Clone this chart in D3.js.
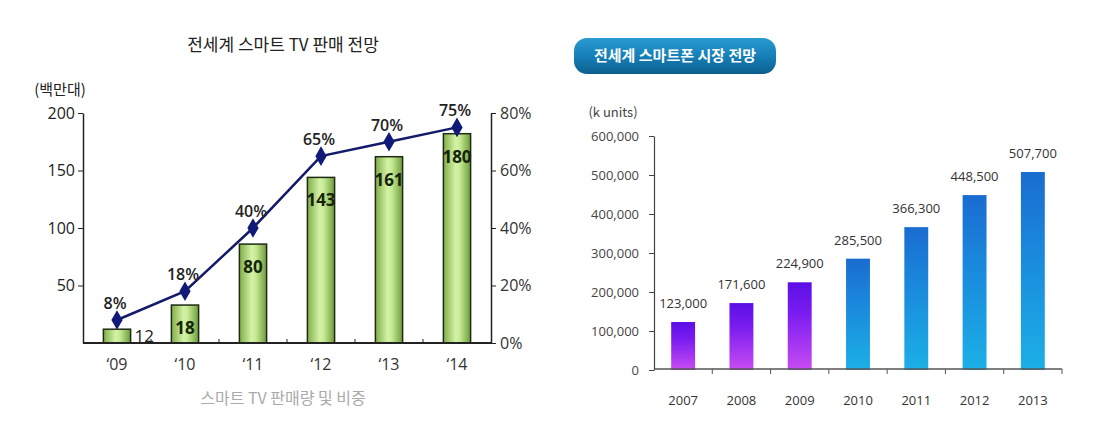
<!DOCTYPE html>
<html>
<head>
<meta charset="utf-8">
<script src="https://cdn.jsdelivr.net/npm/d3@7"></script>
<style>
  html, body { margin: 0; padding: 0; background: #fff; }
  svg { display: block; font-family: "Noto Sans CJK KR", "Noto Sans", sans-serif; }
</style>
</head>
<body>
<svg id="chart" width="1100" height="421"></svg>
<script>
// ---- Left chart: smart TV ----
const tvYears = ["‘09", "‘10", "‘11", "‘12", "‘13", "‘14"];
const tvBarValues = [12, 33, 86, 144, 162, 182];        // drawn bar heights (백만대)
const tvBarLabels = ["12", "18", "80", "143", "161", "180"];
const tvShare = [8, 18, 40, 65, 70, 75];                 // %
const tvLeftTicks = [50, 100, 150, 200];
const tvRightTicks = [0, 20, 40, 60, 80];

// ---- Right chart: smartphone ----
const phYears = ["2007", "2008", "2009", "2010", "2011", "2012", "2013"];
const phValues = [123000, 171600, 224900, 285500, 366300, 448500, 507700];
const phTicks = [0, 100000, 200000, 300000, 400000, 500000, 600000];

const svg = d3.select("#chart");
const defs = svg.append("defs");

// gradients
const gGreen = defs.append("linearGradient").attr("id", "gGreen").attr("x1", 0).attr("x2", 1).attr("y1", 0).attr("y2", 0);
[[0, "#7fae48"], [0.45, "#d4f2a6"], [0.6, "#c6eb93"], [1, "#6f9c3c"]].forEach(s =>
  gGreen.append("stop").attr("offset", s[0]).attr("stop-color", s[1]));
const gPurple = defs.append("linearGradient").attr("id", "gPurple").attr("x1", 0).attr("x2", 0).attr("y1", 0).attr("y2", 1);
[[0, "#5a10e6"], [0.35, "#7a1cf0"], [1, "#c84cf2"]].forEach(s =>
  gPurple.append("stop").attr("offset", s[0]).attr("stop-color", s[1]));
const gBlue = defs.append("linearGradient").attr("id", "gBlue").attr("x1", 0).attr("x2", 0).attr("y1", 0).attr("y2", 1);
[[0, "#1a6cd0"], [0.4, "#1a88dc"], [1, "#1cb0e6"]].forEach(s =>
  gBlue.append("stop").attr("offset", s[0]).attr("stop-color", s[1]));
const gBtn = defs.append("linearGradient").attr("id", "gBtn").attr("x1", 0).attr("x2", 0).attr("y1", 0).attr("y2", 1);
[[0, "#2a9ad0"], [0.5, "#1680b8"], [1, "#0d5f8e"]].forEach(s =>
  gBtn.append("stop").attr("offset", s[0]).attr("stop-color", s[1]));

// ===== Left chart =====
const L = { left: 83, right: 491, top: 113, bottom: 343 };
const xL = d3.scaleBand().domain(tvYears).range([L.left, L.right]).paddingInner(0.6).paddingOuter(0.3);
const yL = d3.scaleLinear().domain([0, 200]).range([L.bottom, L.top]);
const yP = d3.scaleLinear().domain([0, 80]).range([L.bottom, L.top]);

svg.append("text").attr("x", 283).attr("y", 51).attr("text-anchor", "middle")
  .attr("font-size", 17).attr("fill", "#222").text("전세계 스마트 TV 판매 전망");
svg.append("text").attr("x", 60).attr("y", 95).attr("text-anchor", "middle")
  .attr("font-size", 15).attr("fill", "#222").text("(백만대)");

// left axis
const axL = svg.append("g").attr("transform", `translate(${L.left},0)`)
  .call(d3.axisLeft(yL).tickValues(tvLeftTicks).tickSize(5).tickSizeOuter(0));
axL.select(".domain").attr("stroke", "#222").attr("stroke-width", 1.5);
axL.selectAll(".tick line").attr("stroke", "#222");
axL.selectAll(".tick text").attr("font-size", 16).attr("fill", "#222")
  .attr("font-family", "'Open Sans', 'Noto Sans', sans-serif").attr("x", -8);

// right axis
const axR = svg.append("g").attr("transform", `translate(${L.right},0)`)
  .call(d3.axisRight(yP).tickValues(tvRightTicks).tickSize(5).tickSizeOuter(0).tickFormat(d => d + "%"));
axR.select(".domain").attr("stroke", "#222").attr("stroke-width", 1.5);
axR.selectAll(".tick line").attr("stroke", "#222");
axR.selectAll(".tick text").attr("font-size", 16).attr("fill", "#333")
  .attr("font-family", "'Open Sans', 'Noto Sans', sans-serif").attr("x", 9);

// bars
svg.append("g").selectAll("rect").data(tvYears).join("rect")
  .attr("x", d => xL(d)).attr("width", xL.bandwidth())
  .attr("y", (d, i) => yL(tvBarValues[i]))
  .attr("height", (d, i) => yL(0) - yL(tvBarValues[i]))
  .attr("fill", "url(#gGreen)").attr("stroke", "#1e2a14").attr("stroke-width", 1.5);

// bottom axis
svg.append("line").attr("x1", L.left).attr("x2", L.right).attr("y1", L.bottom).attr("y2", L.bottom)
  .attr("stroke", "#222").attr("stroke-width", 1.8);
const stepL = xL.step();
svg.append("g").selectAll("line").data(tvYears.slice(1)).join("line")
  .attr("x1", d => xL(d) - stepL * 0.3).attr("x2", d => xL(d) - stepL * 0.3)
  .attr("y1", L.bottom).attr("y2", L.bottom - 4).attr("stroke", "#222");
svg.append("g").selectAll("text").data(tvYears).join("text")
  .attr("x", d => xL(d) + xL.bandwidth() / 2).attr("y", 370)
  .attr("text-anchor", "middle").attr("font-size", 16).attr("fill", "#333")
  .attr("font-family", "'Open Sans', 'Noto Sans', sans-serif").text(d => d);

// bar labels
svg.append("g").selectAll("text").data(tvYears).join("text")
  .attr("x", (d, i) => i === 0 ? xL(d) + xL.bandwidth() + 4 : xL(d) + xL.bandwidth() / 2)
  .attr("y", (d, i) => i === 0 ? yL(0) - 1 : yL(tvBarValues[i]) + 29)
  .attr("text-anchor", (d, i) => i === 0 ? "start" : "middle")
  .attr("font-size", 17).attr("font-weight", (d, i) => i === 0 ? "normal" : "bold")
  .attr("fill", (d, i) => i === 0 ? "#222" : "#16240c")
  .attr("font-family", "'Open Sans', 'Noto Sans', sans-serif")
  .text((d, i) => tvBarLabels[i]);

// share line
const cx = d => xL(d) + xL.bandwidth() / 2;
svg.append("path").datum(tvYears)
  .attr("d", d3.line().x(cx).y((d, i) => yP(tvShare[i])))
  .attr("fill", "none").attr("stroke", "#141a6a").attr("stroke-width", 2.5);
svg.append("g").selectAll("path").data(tvYears).join("path")
  .attr("d", d3.symbol().type(d3.symbolDiamond).size(110))
  .attr("transform", (d, i) => `translate(${cx(d)},${yP(tvShare[i])})`)
  .attr("fill", "#101a78");
svg.append("g").selectAll("text").data(tvYears).join("text")
  .attr("x", (d, i) => cx(d) - 2).attr("y", (d, i) => yP(tvShare[i]) - 11)
  .attr("text-anchor", "middle").attr("font-size", 16).attr("font-weight", 600).attr("fill", "#222")
  .attr("font-family", "'Open Sans', 'Noto Sans', sans-serif")
  .text((d, i) => tvShare[i] + "%");

svg.append("text").attr("x", 283).attr("y", 404).attr("text-anchor", "middle")
  .attr("font-size", 16).attr("fill", "#aaa").text("스마트 TV 판매량 및 비중");

// ===== Right chart =====
const R = { left: 654, right: 1062, top: 136, bottom: 370 };
const xR = d3.scaleBand().domain(phYears).range([R.left, R.right]).paddingInner(0.59).paddingOuter(0.295);
const yR = d3.scaleLinear().domain([0, 600000]).range([R.bottom, R.top]);

svg.append("rect").attr("x", 574).attr("y", 38).attr("width", 202).attr("height", 36).attr("rx", 13)
  .attr("fill", "url(#gBtn)");
svg.append("text").attr("x", 675).attr("y", 61).attr("text-anchor", "middle")
  .attr("font-size", 15).attr("font-weight", "bold").attr("fill", "#fff").text("전세계 스마트폰 시장 전망");

svg.append("text").attr("x", 613).attr("y", 117).attr("text-anchor", "middle")
  .attr("font-size", 13).attr("fill", "#444").text("(k units)");

const axR2 = svg.append("g").attr("transform", `translate(${R.left},0)`)
  .call(d3.axisLeft(yR).tickValues(phTicks).tickSize(5).tickSizeOuter(0).tickFormat(d3.format(",")));
axR2.select(".domain").attr("stroke", "#444").attr("stroke-width", 1.2);
axR2.selectAll(".tick line").attr("stroke", "#444");
axR2.selectAll(".tick text").attr("font-size", 13).attr("fill", "#444")
  .attr("font-family", "'Open Sans', 'Noto Sans', sans-serif").attr("x", -15);

svg.append("g").selectAll("rect").data(phYears).join("rect")
  .attr("x", d => xR(d)).attr("width", xR.bandwidth())
  .attr("y", (d, i) => yR(phValues[i]))
  .attr("height", (d, i) => yR(0) - yR(phValues[i]))
  .attr("fill", (d, i) => i < 3 ? "url(#gPurple)" : "url(#gBlue)");

svg.append("line").attr("x1", R.left).attr("x2", R.right).attr("y1", R.bottom - 1).attr("y2", R.bottom - 1)
  .attr("stroke", "#555").attr("stroke-width", 1.5);
const stepR = xR.step();
svg.append("g").selectAll("line").data(phYears).join("line")
  .attr("x1", d => xR(d) + xR.bandwidth() + stepR * 0.295).attr("x2", d => xR(d) + xR.bandwidth() + stepR * 0.295)
  .attr("y1", R.bottom - 1).attr("y2", R.bottom + 4).attr("stroke", "#555");

svg.append("g").selectAll("text").data(phYears).join("text")
  .attr("x", d => xR(d) + xR.bandwidth() / 2).attr("y", 405)
  .attr("text-anchor", "middle").attr("font-size", 13).attr("fill", "#333")
  .attr("font-family", "'Open Sans', 'Noto Sans', sans-serif").text(d => d);

svg.append("g").selectAll("text").data(phYears).join("text")
  .attr("x", d => xR(d) + xR.bandwidth() / 2).attr("y", (d, i) => yR(phValues[i]) - 14)
  .attr("text-anchor", "middle").attr("font-size", 13).attr("fill", "#333")
  .attr("font-family", "'Open Sans', 'Noto Sans', sans-serif")
  .text((d, i) => d3.format(",")(phValues[i]));
</script>
</body>
</html>
